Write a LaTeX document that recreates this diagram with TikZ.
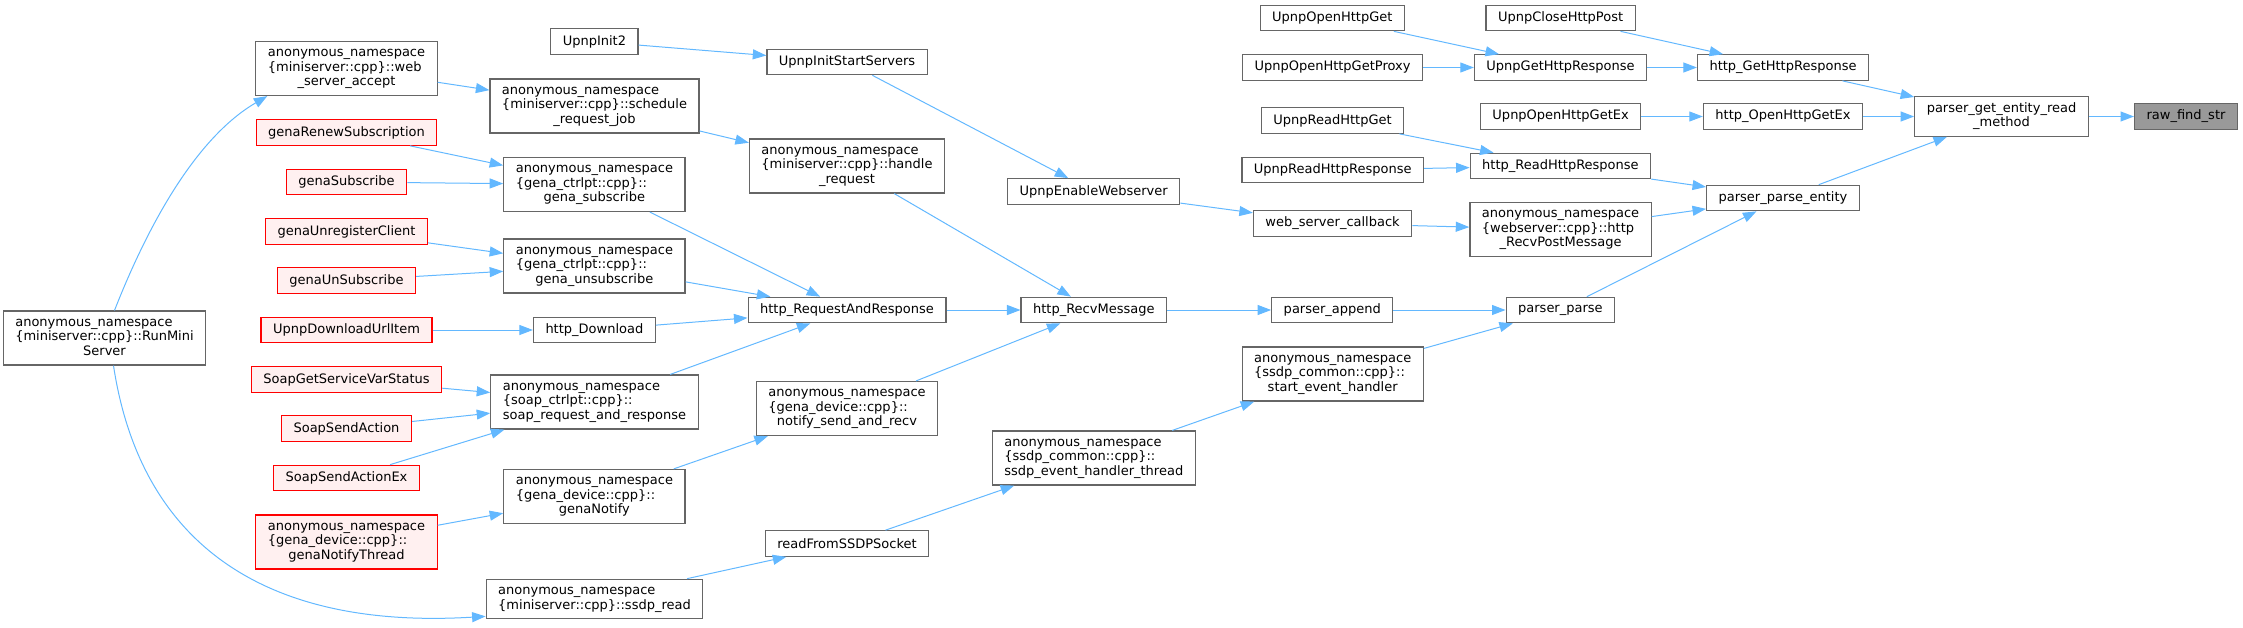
\documentclass[tikz,border=0pt]{standalone}
\usepackage{fontspec}
\setmainfont{DejaVu Sans}
\usepackage{tikz}
\usetikzlibrary{arrows.meta}
\definecolor{edgeblue}{RGB}{99,184,255}
\definecolor{boxgrey}{RGB}{102,102,102}
\definecolor{rootfill}{RGB}{153,153,153}
\definecolor{callerred}{RGB}{255,0,0}
\definecolor{redfill}{RGB}{255,240,240}
% three line label: first two lines flush left, last one centred
\newcommand{\nsname}[3]{\begin{tabular}{@{}l@{}}#1\\#2\\\multicolumn{1}{@{}c@{}}{#3}\end{tabular}}
\newcommand{\nstwo}[2]{\begin{tabular}{@{}l@{}}#1\\\multicolumn{1}{@{}c@{}}{#2}\end{tabular}}

\begin{document}
\begin{tikzpicture}[x=1pt, y=-1pt, font=\fontsize{13}{14.5}\selectfont,
    >={Triangle[length=13.5pt,width=10pt]},
    box/.style={draw=boxgrey, fill=white, line width=1.2pt, inner xsep=12pt,
                inner ysep=5.25pt, minimum height=25.5pt, align=center},
    redbox/.style={box, draw=callerred, fill=redfill},
    rootbox/.style={box, fill=rootfill},
    edge/.style={->, draw=edgeblue, line width=1pt}]
  \useasboundingbox (0,0) rectangle (2243,627);

  % callee side
  \node[rootbox] (rawfind)     at (2186,116.5)  {raw\_find\_str};
  \node[box] (getentity)       at (2001.5,116.5) {\nstwo{parser\_get\_entity\_read}{\_method}};
  \node[box] (gethttp)         at (1783,67.5)   {http\_GetHttpResponse};
  \node[box] (openex)          at (1783,116.5)  {http\_OpenHttpGetEx};
  \node[box] (parseentity)     at (1783,198)    {parser\_parse\_entity};
  \node[box] (closepost)       at (1560.6,18)   {UpnpCloseHttpPost};
  \node[box] (upnpgetresp)     at (1560.5,67.5) {UpnpGetHttpResponse};
  \node[box] (upnpopenex)      at (1560.6,116.5) {UpnpOpenHttpGetEx};
  \node[box] (readresp)        at (1560.4,166)  {http\_ReadHttpResponse};
  \node[box] (recvpost)        at (1560.5,229.5) {\nsname{anonymous\_namespace}{\{webserver::cpp\}::http}{\_RecvPostMessage}};
  \node[box] (parse)           at (1560.4,310)  {parser\_parse};
  \node[box] (openget)         at (1332.3,18)   {UpnpOpenHttpGet};
  \node[box] (opengetproxy)    at (1332.5,67.5) {UpnpOpenHttpGetProxy};
  \node[box] (readget)         at (1332.5,120.5) {UpnpReadHttpGet};
  \node[box] (upnpreadresp)    at (1332.7,170)  {UpnpReadHttpResponse};
  \node[box] (webcallback)     at (1332.6,223.5) {web\_server\_callback};
  \node[box] (append)          at (1332.3,310)  {parser\_append};
  \node[box] (starthandler)    at (1332.7,374)  {\nsname{anonymous\_namespace}{\{ssdp\_common::cpp\}::}{start\_event\_handler}};
  \node[box] (enableweb)       at (1093.7,191.5) {UpnpEnableWebserver};
  \node[box] (recvmsg)         at (1093.8,310)  {http\_RecvMessage};
  \node[box] (handlerthread)   at (1093.8,458)  {\nsname{anonymous\_namespace}{\{ssdp\_common::cpp\}::}{ssdp\_event\_handler\_thread}};
  \node[box] (startservers)    at (847,62)      {UpnpInitStartServers};
  \node[box] (handlereq)       at (847,166)     {\nsname{anonymous\_namespace}{\{miniserver::cpp\}::handle}{\_request}};
  \node[box] (reqresp)         at (847,310)     {http\_RequestAndResponse};
  \node[box] (notifysend)      at (847,408.5)   {\nsname{anonymous\_namespace}{\{gena\_device::cpp\}::}{notify\_send\_and\_recv}};
  \node[box] (readssdp)        at (847,543.5)   {readFromSSDPSocket};
  \node[box] (init2)           at (594.4,41.5)  {UpnpInit2};
  \node[box] (schedjob)        at (594.5,106)   {\nsname{anonymous\_namespace}{\{miniserver::cpp\}::schedule}{\_request\_job}};
  \node[box] (genasub)         at (594.4,184.5) {\nsname{anonymous\_namespace}{\{gena\_ctrlpt::cpp\}::}{gena\_subscribe}};
  \node[box] (genaunsub)       at (594.4,266)   {\nsname{anonymous\_namespace}{\{gena\_ctrlpt::cpp\}::}{gena\_unsubscribe}};
  \node[box] (download)        at (594.4,330)   {http\_Download};
  \node[box] (soapreq)         at (594.5,402)   {\nsname{anonymous\_namespace}{\{soap\_ctrlpt::cpp\}::}{soap\_request\_and\_response}};
  \node[box] (genanotify)      at (594.4,496.5) {\nsname{anonymous\_namespace}{\{gena\_device::cpp\}::}{genaNotify}};
  \node[box] (ssdpread)        at (594.5,599)   {\nstwo{anonymous\_namespace}{\{miniserver::cpp\}::ssdp\_read}};
  \node[box] (webaccept)       at (346.5,68.5)  {\nsname{anonymous\_namespace}{\{miniserver::cpp\}::web}{\_server\_accept}};
  \node[redbox] (renewsub)     at (346.5,132.5) {genaRenewSubscription};
  \node[redbox] (genasubscribe) at (346.5,182)  {genaSubscribe};
  \node[redbox] (unregclient)  at (346.5,231.5) {genaUnregisterClient};
  \node[redbox] (unsubscribe)  at (346.5,280.5) {genaUnSubscribe};
  \node[redbox] (dlurl)        at (346.5,330)   {UpnpDownloadUrlItem};
  \node[redbox] (soapvar)      at (346.5,379.5) {SoapGetServiceVarStatus};
  \node[redbox] (soapaction)   at (346.5,428.5) {SoapSendAction};
  \node[redbox] (soapactionex) at (346.5,478)   {SoapSendActionEx};
  \node[redbox] (notifythread) at (346.5,542)   {\nsname{anonymous\_namespace}{\{gena\_device::cpp\}::}{genaNotifyThread}};
  \node[box] (runmini)         at (104.5,338)   {\nsname{anonymous\_namespace}{\{miniserver::cpp\}::RunMini}{Server}};

  % calls
  \draw[edge] (getentity) -- (rawfind);
  \draw[edge] (gethttp) -- (getentity);
  \draw[edge] (openex) -- (getentity);
  \draw[edge] (parseentity) -- (getentity);
  \draw[edge] (closepost) -- (gethttp);
  \draw[edge] (upnpgetresp) -- (gethttp);
  \draw[edge] (openget) -- (upnpgetresp);
  \draw[edge] (opengetproxy) -- (upnpgetresp);
  \draw[edge] (upnpopenex) -- (openex);
  \draw[edge] (readresp) -- (parseentity);
  \draw[edge] (recvpost) -- (parseentity);
  \draw[edge] (parse) -- (parseentity);
  \draw[edge] (readget) -- (readresp);
  \draw[edge] (upnpreadresp) -- (readresp);
  \draw[edge] (webcallback) -- (recvpost);
  \draw[edge] (enableweb) -- (webcallback);
  \draw[edge] (startservers) -- (enableweb);
  \draw[edge] (init2) -- (startservers);
  \draw[edge] (append) -- (parse);
  \draw[edge] (starthandler) -- (parse);
  \draw[edge] (recvmsg) -- (append);
  \draw[edge] (handlerthread) -- (starthandler);
  \draw[edge] (readssdp) -- (handlerthread);
  \draw[edge] (ssdpread) -- (readssdp);
  \draw[edge] (webaccept) -- (schedjob);
  \draw[edge] (schedjob) -- (handlereq);
  \draw[edge] (handlereq) -- (recvmsg);
  \draw[edge] (reqresp) -- (recvmsg);
  \draw[edge] (notifysend) -- (recvmsg);
  \draw[edge] (genasub) -- (reqresp);
  \draw[edge] (genaunsub) -- (reqresp);
  \draw[edge] (download) -- (reqresp);
  \draw[edge] (soapreq) -- (reqresp);
  \draw[edge] (renewsub) -- (genasub);
  \draw[edge] (genasubscribe) -- (genasub);
  \draw[edge] (unregclient) -- (genaunsub);
  \draw[edge] (unsubscribe) -- (genaunsub);
  \draw[edge] (dlurl) -- (download);
  \draw[edge] (soapvar) -- (soapreq);
  \draw[edge] (soapaction) -- (soapreq);
  \draw[edge] (soapactionex) -- (soapreq);
  \draw[edge] (genanotify) -- (notifysend);
  \draw[edge] (notifythread) -- (genanotify);
  \draw[edge] ([xshift=10pt]runmini.north) .. controls (150,220) and (198,136.5) .. ([xshift=12pt]webaccept.south west);
  \draw[edge] ([xshift=9pt]runmini.south) .. controls (140,540) and (260,630) .. ([yshift=3pt]ssdpread.south west);
\end{tikzpicture}
\end{document}
